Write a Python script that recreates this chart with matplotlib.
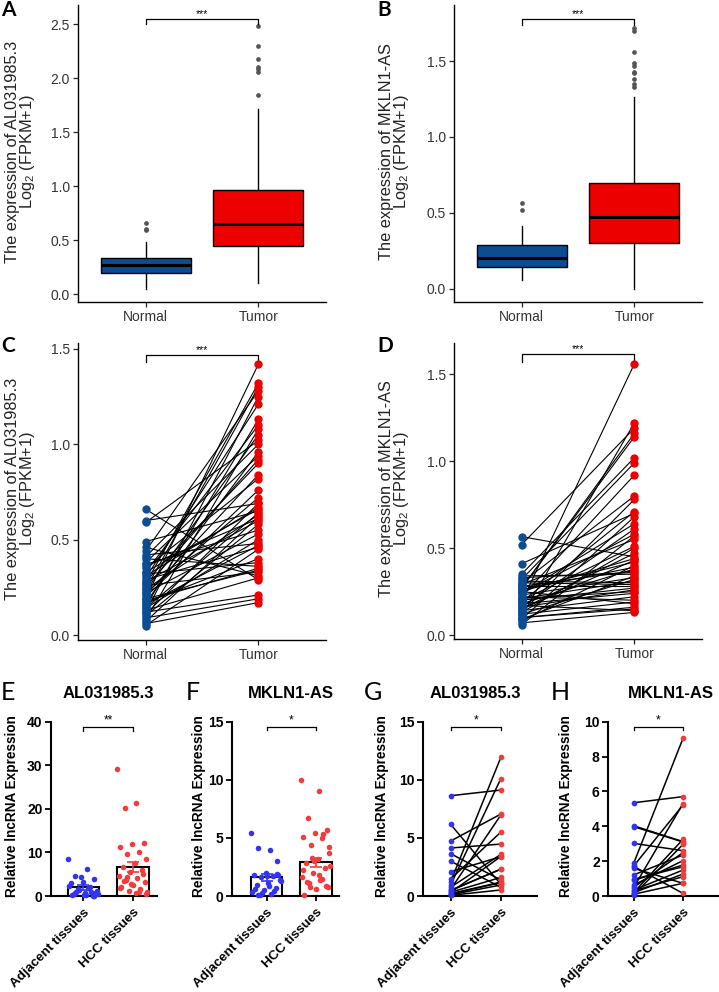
import numpy as np
import matplotlib
matplotlib.use("Agg")
import matplotlib.pyplot as plt

plt.rcParams["font.family"] = ["Liberation Sans", "DejaVu Sans"]
plt.rcParams["mathtext.default"] = "regular"

# ---------------- data ----------------
GROUPS_TCGA = ["Normal", "Tumor"]
GROUPS_QPCR = ["Adjacent tissues", "HCC tissues"]

# A: AL031985.3 boxplot stats (q1, median, q3, whisker low, whisker high)
a_normal_box = [0.19, 0.27, 0.33, 0.05, 0.48]
a_normal_out = [0.59, 0.60, 0.66]
a_tumor_box = [0.44, 0.65, 0.96, 0.10, 1.71]
a_tumor_out = [1.84, 2.06, 2.08, 2.10, 2.18, 2.30, 2.48]

# B: MKLN1-AS boxplot stats
b_normal_box = [0.145, 0.20, 0.285, 0.06, 0.41]
b_normal_out = [0.52, 0.565]
b_tumor_box = [0.30, 0.475, 0.695, 0.0, 1.26]
b_tumor_out = [1.33, 1.35, 1.38, 1.42, 1.43, 1.47, 1.49, 1.56, 1.70, 1.72]

# C: paired AL031985.3 (normal, tumor)
c_normal = [0.66, 0.60, 0.59, 0.49, 0.46, 0.44, 0.42, 0.40, 0.38, 0.37,
            0.35, 0.33, 0.32, 0.31, 0.30, 0.29, 0.28, 0.27, 0.26, 0.25,
            0.24, 0.23, 0.22, 0.21, 0.20, 0.19, 0.18, 0.17, 0.16, 0.15,
            0.14, 0.13, 0.12, 0.11, 0.10, 0.09, 0.08, 0.07, 0.06, 0.05,
            0.33, 0.28, 0.24, 0.19, 0.14, 0.36, 0.41, 0.22, 0.17, 0.12]
c_tumor = [0.29, 0.69, 1.02, 0.65, 0.31, 1.28, 0.48, 0.36, 0.94, 0.55,
           0.82, 1.10, 0.38, 0.67, 1.21, 0.46, 0.60, 1.32, 0.33, 0.92,
           0.63, 1.05, 0.53, 0.84, 0.76, 1.42, 0.35, 0.96, 0.47, 1.13,
           0.64, 0.30, 1.25, 0.69, 0.58, 0.19, 1.08, 0.62, 0.17, 0.45,
           0.66, 0.90, 1.30, 0.34, 0.50, 0.61, 1.00, 0.72, 0.40, 0.21]

# D: paired MKLN1-AS (normal, tumor)
d_normal = [0.566, 0.52, 0.41, 0.35, 0.33, 0.32, 0.31, 0.30, 0.29, 0.28,
            0.27, 0.26, 0.25, 0.24, 0.23, 0.22, 0.21, 0.20, 0.19, 0.18,
            0.17, 0.16, 0.15, 0.14, 0.13, 0.12, 0.11, 0.10, 0.09, 0.08,
            0.07, 0.06, 0.34, 0.30, 0.27, 0.25, 0.22, 0.19, 0.16, 0.13,
            0.10, 0.28, 0.24, 0.21, 0.18, 0.15, 0.12, 0.09, 0.20, 0.26]
d_tumor = [0.45, 1.19, 0.70, 1.02, 0.36, 0.99, 0.30, 0.80, 0.55, 0.28,
           1.14, 0.42, 0.18, 0.64, 0.33, 0.92, 0.25, 0.51, 1.56, 0.38,
           0.14, 0.61, 0.47, 0.22, 0.78, 0.32, 1.22, 0.16, 0.68, 0.40,
           0.13, 0.57, 0.35, 0.29, 1.16, 0.44, 0.20, 0.71, 0.26, 0.50,
           0.15, 0.37, 0.58, 0.31, 0.24, 0.43, 0.19, 0.34, 0.27, 0.39]

# E: qPCR AL031985.3 (unpaired dots, mean, sem)
e_adj = [8.6, 6.2, 4.7, 3.8, 3.3, 2.9, 2.1, 1.5, 1.2, 0.8, 0.4, 0.1,
         4.3, 2.4, 1.8, 1.0, 0.6, 0.3, 0.2, 0.9, 1.3, 0.5, 0.15, 0.7, 0.05]
e_hcc = [29.1, 21.3, 20.3, 12.2, 11.9, 11.3, 10.2, 9.6, 8.4, 7.5, 6.7,
         6.0, 5.4, 4.7, 4.1, 3.7, 3.1, 2.5, 2.0, 1.5, 1.2, 1.0, 0.6,
         3.4, 5.0, 2.8, 1.8, 0.9, 4.4, 0.5]
e_mean = [2.0, 6.6]
e_sem = [0.6, 1.1]

# F: qPCR MKLN1-AS
f_adj = [5.45, 4.0, 4.15, 3.0, 1.95, 1.85, 1.75, 1.6, 1.4, 1.15, 0.95,
         0.7, 0.5, 0.37, 0.15, 0.05, 1.8, 1.7, 0.6, 0.45, 0.3, 1.25,
         0.85, 0.1, 1.9]
f_hcc = [10.0, 9.0, 6.7, 5.7, 5.4, 5.1, 4.95, 4.4, 3.7, 3.2, 2.8, 2.4,
         2.0, 1.66, 1.4, 1.1, 0.8, 0.57, 0.05, 5.3, 3.3, 2.6, 1.8, 1.2,
         0.9, 3.0, 2.2, 1.5, 0.75, 4.2]
f_mean = [1.6, 2.9]
f_sem = [0.27, 0.38]

# G: paired qPCR AL031985.3
g_adj = [8.63, 6.17, 4.73, 4.13, 3.64, 3.0, 2.09, 1.46, 1.23, 0.95,
         0.75, 0.57, 0.46, 0.32, 0.17, 0.06, 0.30, 0.10, 0.20, 0.50]
g_hcc = [9.12, 1.00, 7.05, 4.47, 1.38, 0.75, 3.38, 5.50, 11.93, 10.10,
         3.58, 6.97, 2.32, 1.60, 1.15, 0.52, 3.40, 0.95, 1.20, 2.30]

# H: paired qPCR MKLN1-AS
h_adj = [5.35, 4.03, 3.98, 3.02, 1.87, 1.72, 1.59, 1.21, 0.96, 0.63,
         0.48, 0.34, 0.19, 0.06, 0.30, 0.50, 1.70, 0.90, 0.20, 0.10]
h_hcc = [5.70, 3.12, 3.10, 2.60, 9.04, 5.22, 0.73, 2.35, 1.68, 2.03,
         5.30, 1.49, 1.26, 2.96, 1.11, 2.49, 0.15, 1.78, 3.25, 0.73]

# ---------------- style ----------------
W, H = 719, 992
BLUE_T, RED_T = "#0C4C93", "#EC0000"
BLUE_Q, RED_Q = "#3333F2", "#F23C3C"
fig = plt.figure(figsize=(W / 100, H / 100), dpi=100)


def frame(l, t, r, b):
    return fig.add_axes([l / W, 1 - b / H, (r - l) / W, (b - t) / H])


def ftext(x, y, s, **kw):
    return fig.text(x / W, 1 - y / H, s, **kw)


def style_tcga(ax, ylim, yticks):
    ax.set_xlim(0.4, 2.6)
    ax.set_ylim(*ylim)
    ax.set_yticks(yticks)
    ax.set_yticklabels([f"{v:.1f}" for v in yticks])
    ax.set_xticks([1, 2])
    ax.set_xticklabels(GROUPS_TCGA, fontsize=10.3)
    for s in ("top", "right"):
        ax.spines[s].set_visible(False)
    for s in ("left", "bottom"):
        ax.spines[s].set_linewidth(1.0)
    ax.tick_params(length=3.5, width=0.9, labelsize=10, colors="#222222",
                   labelcolor="#333333", pad=2.5)


def bracket(ax, x0, x1, y, drop, label, size):
    ax.plot([x0, x0, x1, x1], [y - drop, y, y, y - drop], color="black",
            lw=0.9, clip_on=False)
    ax.text((x0 + x1) / 2, y, label, ha="center", va="bottom",
            fontsize=size, clip_on=False)


def boxes(ax, stats_n, out_n, stats_t, out_t):
    stats = []
    for st, out in ((stats_n, out_n), (stats_t, out_t)):
        q1, med, q3, lo, hi = st
        stats.append(dict(q1=q1, med=med, q3=q3, whislo=lo, whishi=hi,
                          fliers=out))
    bp = ax.bxp(stats, positions=[1, 2], widths=0.8, patch_artist=True,
                showcaps=False,
                medianprops=dict(color="black", lw=2.2),
                whiskerprops=dict(color="black", lw=1.0),
                boxprops=dict(edgecolor="black", lw=1.0),
                flierprops=dict(marker="o", markersize=3.4,
                                markerfacecolor="#555555",
                                markeredgecolor="none"))
    for patch, c in zip(bp["boxes"], (BLUE_T, RED_T)):
        patch.set_facecolor(c)


def paired_tcga(ax, normal, tumor):
    for n, t in zip(normal, tumor):
        ax.plot([1, 2], [n, t], color="black", lw=0.8, zorder=2)
    ax.scatter(np.ones(len(normal)), normal, s=36, color=BLUE_T, zorder=3,
               linewidths=0)
    ax.scatter(np.full(len(tumor), 2), tumor, s=36, color=RED_T, zorder=3,
               linewidths=0)


def style_qpcr(ax, xlim, ymax, yticks):
    ax.set_xlim(*xlim)
    ax.set_ylim(0, ymax)
    ax.set_yticks(yticks)
    ax.set_xticks([0, 1])
    ax.set_xticklabels(GROUPS_QPCR, rotation=45, ha="right",
                       rotation_mode="anchor", fontweight="bold",
                       fontsize=9.6)
    for s in ("top", "right"):
        ax.spines[s].set_visible(False)
    for s in ("left", "bottom"):
        ax.spines[s].set_linewidth(1.5)
    ax.tick_params(axis="y", length=4, width=1.3, labelsize=10, pad=2)
    ax.tick_params(axis="x", length=3.5, width=1.3, pad=4)
    for lab in ax.get_yticklabels():
        lab.set_fontweight("bold")


def spread(n, width=0.31):
    # deterministic horizontal scatter of dots within a bar
    k = np.arange(n)
    return ((k * 0.618034) % 1.0 - 0.5) * 2 * width


def bar_dots(ax, adj, hcc, mean, sem):
    ax.bar([0, 1], mean, width=0.64, color="white", edgecolor="black",
           lw=1.5, zorder=1)
    for x, vals, c in ((0, adj, BLUE_Q), (1, hcc, RED_Q)):
        ax.scatter(x + spread(len(vals)), vals, s=16, color=c, zorder=3,
                   linewidths=0, clip_on=False)
    for x, m, e, c in zip([0, 1], mean, sem, (BLUE_Q, RED_Q)):
        ax.errorbar(x, m, yerr=e, color=c, capsize=4, lw=1.2, capthick=1.2,
                    zorder=4)


def paired_qpcr(ax, adj, hcc):
    for a, h in zip(adj, hcc):
        ax.plot([0, 1], [a, h], color="black", lw=1.1, zorder=2,
                clip_on=False)
    ax.scatter(np.zeros(len(adj)), adj, s=17, color=BLUE_Q, zorder=3,
               linewidths=0, clip_on=False)
    ax.scatter(np.ones(len(hcc)), hcc, s=17, color=RED_Q, zorder=3,
               linewidths=0, clip_on=False)


# ---------------- A ----------------
axA = frame(78, 5, 326, 302)
boxes(axA, a_normal_box, a_normal_out, a_tumor_box, a_tumor_out)
style_tcga(axA, (-0.074, 2.676), [0.0, 0.5, 1.0, 1.5, 2.0, 2.5])
bracket(axA, 1, 2, 2.55, 0.05, "***", 7.5)

# ---------------- B ----------------
axB = frame(454, 5, 702, 302)
boxes(axB, b_normal_box, b_normal_out, b_tumor_box, b_tumor_out)
style_tcga(axB, (-0.088, 1.869), [0.0, 0.5, 1.0, 1.5])
bracket(axB, 1, 2, 1.775, 0.04, "***", 7.5)

# ---------------- C ----------------
axC = frame(78, 343, 326, 640)
paired_tcga(axC, c_normal, c_tumor)
style_tcga(axC, (-0.026, 1.531), [0.0, 0.5, 1.0, 1.5])
bracket(axC, 1, 2, 1.468, 0.035, "***", 7.5)

# ---------------- D ----------------
axD = frame(454, 343, 702, 639)
paired_tcga(axD, d_normal, d_tumor)
style_tcga(axD, (-0.023, 1.68), [0.0, 0.5, 1.0, 1.5])
bracket(axD, 1, 2, 1.615, 0.042, "***", 7.5)

ylab_a = "The expression of AL031985.3\nLog$_2$ (FPKM+1)"
ylab_b = "The expression of MKLN1-AS\nLog$_2$ (FPKM+1)"
for x, y, s in ((21, 152, ylab_a), (395, 152, ylab_b),
                (21, 489, ylab_a), (395, 489, ylab_b)):
    ftext(x, y, s, rotation=90, ha="center", va="center",
          rotation_mode="anchor", multialignment="center", fontsize=11.8,
          linespacing=0.92, color="#222222")

# ---------------- E-H ----------------
axE = frame(51, 721.7, 157, 896)
bar_dots(axE, e_adj, e_hcc, e_mean, e_sem)
style_qpcr(axE, (-0.655, 1.49), 40, [0, 10, 20, 30, 40])
bracket(axE, 0, 1, 38.8, 0.9, "**", 8.5)

axF = frame(232, 721.7, 339, 896)
bar_dots(axF, f_adj, f_hcc, f_mean, f_sem)
style_qpcr(axF, (-0.70, 1.47), 15, [0, 5, 10, 15])
bracket(axF, 0, 1, 14.57, 0.3, "*", 8.5)

axG = frame(423, 721.7, 537, 896)
paired_qpcr(axG, g_adj, g_hcc)
style_qpcr(axG, (-0.55, 1.72), 15, [0, 5, 10, 15])
bracket(axG, 0, 1, 14.57, 0.3, "*", 8.5)

axH = frame(608, 721.7, 718, 896)
paired_qpcr(axH, h_adj, h_hcc)
style_qpcr(axH, (-0.52, 1.71), 10, [0, 2, 4, 6, 8, 10])
bracket(axH, 0, 1, 9.71, 0.2, "*", 8.5)

for x, s in ((12, "Relative lncRNA Expression"), (199, "Relative lncRNA Expression"),
             (382, "Relative lncRNA Expression"), (566, "Relative lncRNA Expression")):
    ftext(x, 806, s, rotation=90, ha="center", va="center",
          rotation_mode="anchor", fontsize=9.8, fontweight="bold")

for x, s in ((108, "AL031985.3"), (291, "MKLN1-AS"),
             (475, "AL031985.3"), (671, "MKLN1-AS")):
    ftext(x, 693, s, ha="center", va="center", fontsize=12,
          fontweight="bold")

# panel letters
for x, y, s in ((1, 10, "A"), (377, 10, "B"), (1, 346, "C"), (377, 346, "D")):
    ftext(x, y, s, ha="left", va="center", fontsize=15, fontweight="bold",
          family=["Lato", "DejaVu Sans"])
for x, y, s in ((1, 693, "E"), (186, 693, "F"), (364, 693, "G"), (551, 693, "H")):
    ftext(x, y, s, ha="left", va="center", fontsize=18,
          family=["Lato", "DejaVu Sans"])

fig.savefig("out.png", dpi=100)
